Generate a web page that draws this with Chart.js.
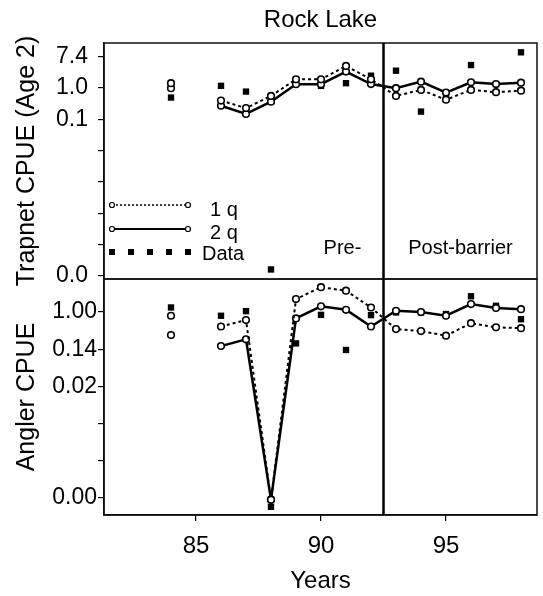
<!DOCTYPE html>
<html>
<head>
<meta charset="utf-8">
<style>
  html, body { margin: 0; padding: 0; background: #fff; }
</style>
</head>
<body>
<canvas id="chart" width="543" height="596"></canvas>
<script src="https://cdn.jsdelivr.net/npm/chart.js"></script>
<script>
  const years = [84, 85, 86, 87, 88, 89, 90, 91, 92, 93, 94, 95, 96, 97, 98];

  // Trapnet CPUE (Age 2) - 85 missing
  const trap1q = [1.35, null, 0.445, 0.275, 0.60, 1.73, 1.73, 4.06, 1.73, 0.60, 0.88, 0.47, 0.88, 0.76, 0.84];
  const trap2q = [0.98, null, 0.32, 0.19, 0.415, 1.27, 1.27, 2.83, 1.28, 0.98, 1.49, 0.74, 1.43, 1.28, 1.40];
  const trapData = [0.54, null, 1.14, 0.79, 0.0000092, null, 1.14, 1.35, 2.18, 3.0, 0.22, 0.55, 4.3, 1.27, 9.7];

  // Angler CPUE
  const angl1q = [0.82, null, 0.46, 0.65, 0.000041, 2.01, 3.82, 3.16, 1.28, 0.40, 0.36, 0.28, 0.55, 0.44, 0.42];
  const angl2q = [0.29, null, 0.16, 0.23, 0.000041, 0.71, 1.36, 1.13, 0.46, 1.07, 1.0, 0.82, 1.54, 1.25, 1.17];
  const anglData = [1.28, null, 0.82, 1.05, 0.000028, 0.185, 0.86, 0.13, 0.85, 0.98, 0.98, 0.90, 2.34, 1.40, 0.68];

  const barrierYear = 92.5;

  const xTicks = [85, 90, 95];
  const xTickLabels = ['85', '90', '95'];
  const trapTicks = [7.389, 1, 0.1353, 0.01832, 0.002479, 0.0003355, 0.0000454, 0.000006144];
  const trapTickLabels = ['7.4', '1.0', '0.1', '', '', '', '', '0.0'];
  const anglTicks = [1, 0.1353, 0.01832, 0.002479, 0.0003355, 0.0000454];
  const anglTickLabels = ['1.00', '0.14', '0.02', '', '', '0.00'];

  const FONT = '"Liberation Sans", Arial, sans-serif';
  Chart.defaults.font.family = FONT;
  Chart.defaults.color = '#000';

  const pts = (vals) => years.map((yr, i) => ({ x: yr, y: vals[i] }));

  const lineSet = (label, vals, axis, dashed) => ({
    label: label,
    data: pts(vals),
    yAxisID: axis,
    borderColor: '#000',
    borderWidth: dashed ? 2 : 2.5,
    borderDash: dashed ? [3, 3] : [],
    pointStyle: 'circle',
    pointRadius: 3.3,
    pointBackgroundColor: '#fff',
    pointBorderColor: '#000',
    pointBorderWidth: 1.6,
    spanGaps: false,
    tension: 0
  });

  const dataSet = (vals, axis) => ({
    label: 'Data',
    data: pts(vals),
    yAxisID: axis,
    showLine: false,
    pointStyle: 'rect',
    pointRadius: 4.5,
    pointBackgroundColor: '#000',
    pointBorderColor: '#000',
    pointBorderWidth: 0
  });

  const tickGrid = { display: true, drawOnChartArea: false, drawTicks: true, tickLength: 6, color: '#000', lineWidth: 1.2 };
  const axisBorder = { display: true, color: '#000', width: 1.5 };

  // frames, barrier line, title, period labels and legend
  const extras = {
    id: 'extras',
    afterDatasetsDraw(chart) {
      const { ctx, chartArea, scales } = chart;
      const left = chartArea.left, w = chartArea.right - chartArea.left;
      ctx.save();
      ctx.strokeStyle = '#111';
      ctx.lineWidth = 1.5;
      ctx.strokeRect(left, scales.yTop.top, w, scales.yTop.bottom - scales.yTop.top);
      ctx.strokeRect(left, scales.yBot.top, w, scales.yBot.bottom - scales.yBot.top);

      const bx = scales.x.getPixelForValue(barrierYear);
      ctx.strokeStyle = '#000';
      ctx.lineWidth = 2.5;
      ctx.beginPath();
      ctx.moveTo(bx, chartArea.top);
      ctx.lineTo(bx, chartArea.bottom);
      ctx.stroke();

      ctx.fillStyle = '#000';
      ctx.textBaseline = 'middle';
      ctx.textAlign = 'center';
      ctx.font = '24px ' + FONT;
      ctx.fillText('Rock Lake', left + w / 2, 20);
      ctx.font = '20px ' + FONT;
      ctx.fillText('Pre-', bx - 41, 248);
      ctx.fillText('Post-barrier', bx + 77, 248);

      // legend
      ctx.textAlign = 'left';
      const x0 = left + 8, x1 = left + 84;
      const rows = [205, 229, 252];
      ctx.lineWidth = 1.5;
      ctx.setLineDash([2, 2]);
      ctx.beginPath(); ctx.moveTo(x0, rows[0]); ctx.lineTo(x1, rows[0]); ctx.stroke();
      ctx.setLineDash([]);
      ctx.lineWidth = 2;
      ctx.beginPath(); ctx.moveTo(x0, rows[1]); ctx.lineTo(x1, rows[1]); ctx.stroke();
      ctx.lineWidth = 1.2;
      [rows[0], rows[1]].forEach(ry => {
        [x0, x1].forEach(cx => {
          ctx.beginPath();
          ctx.arc(cx, ry, 2.5, 0, Math.PI * 2);
          ctx.fillStyle = '#fff';
          ctx.fill();
          ctx.stroke();
        });
      });
      ctx.fillStyle = '#000';
      for (let i = 0; i < 5; i++) {
        const sx = x0 + i * (x1 - x0) / 4;
        ctx.fillRect(sx - 3, rows[2] - 3, 6, 6);
      }
      ctx.fillText('1 q', left + 106, rows[0] + 5);
      ctx.fillText('2 q', left + 106, rows[1] + 4);
      ctx.fillText('Data', left + 98, rows[2] + 2);
      ctx.restore();
    }
  };

  const ctx = document.getElementById('chart').getContext('2d');
  const chart = new Chart(ctx, {
    type: 'line',
    data: {
      datasets: [
        lineSet('1 q', trap1q, 'yTop', true),
        lineSet('2 q', trap2q, 'yTop', false),
        dataSet(trapData, 'yTop'),
        lineSet('1 q', angl1q, 'yBot', true),
        lineSet('2 q', angl2q, 'yBot', false),
        dataSet(anglData, 'yBot')
      ]
    },
    options: {
      responsive: false,
      animation: false,
      devicePixelRatio: 1,
      layout: { padding: { left: 0, right: 6, top: 43, bottom: 0 } },
      plugins: {
        legend: { display: false },
        tooltip: { enabled: false },
        title: { display: false }
      },
      scales: {
        x: {
          type: 'linear',
          min: 81.32,
          max: 98.64,
          grid: tickGrid,
          border: axisBorder,
          afterBuildTicks: (s) => { s.ticks = xTicks.map(v => ({ value: v })); },
          afterFit: (s) => { s.height = 81; },
          ticks: {
            autoSkip: false,
            maxRotation: 0,
            padding: 11,
            font: { size: 24 },
            callback: (v, i) => xTickLabels[i]
          },
          title: { display: true, text: 'Years', font: { size: 24 }, padding: { top: 0, bottom: 0 } }
        },
        yBot: {
          type: 'logarithmic',
          position: 'left',
          stack: 'panels',
          stackWeight: 1,
          bounds: 'data',
          min: 0.000018,
          max: 5.93,
          grid: tickGrid,
          border: axisBorder,
          afterBuildTicks: (s) => { s.ticks = anglTicks.map(v => ({ value: v })); },
          afterFit: (s) => { s.width = 104; },
          ticks: {
            autoSkip: false,
            padding: 1,
            font: { size: 23 },
            callback: (v, i) => anglTickLabels[i]
          },
          title: { display: true, text: 'Angler CPUE', font: { size: 25 }, padding: { top: 12, bottom: 0 } }
        },
        yTop: {
          type: 'logarithmic',
          position: 'left',
          stack: 'panels',
          stackWeight: 1,
          bounds: 'data',
          min: 0.000005,
          max: 17.6,
          grid: tickGrid,
          border: axisBorder,
          afterBuildTicks: (s) => { s.ticks = trapTicks.map(v => ({ value: v })); },
          afterFit: (s) => { s.width = 104; },
          ticks: {
            autoSkip: false,
            padding: 10,
            font: { size: 23 },
            callback: (v, i) => trapTickLabels[i]
          },
          title: { display: true, text: 'Trapnet CPUE (Age 2)', font: { size: 25 }, padding: { top: 12, bottom: 0 } }
        }
      }
    },
    plugins: [extras]
  });
</script>
</body>
</html>
